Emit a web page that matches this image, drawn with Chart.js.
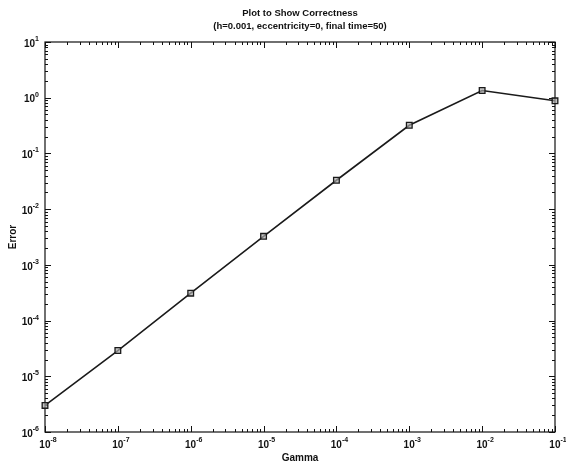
<!DOCTYPE html>
<html lang="en">
<head>
<meta charset="UTF-8">
<script src="https://cdn.jsdelivr.net/npm/chart.js"></script>
<style>
  html, body { margin: 0; padding: 0; background: #fff; }
  #wrap { width: 566px; height: 470px; }
</style>
</head>
<body>
<div id="wrap"><canvas id="errChart" width="566" height="470"></canvas></div>
<script>
  // data
  const gamma = [1e-8, 1e-7, 1e-6, 1e-5, 1e-4, 1e-3, 1e-2, 1e-1];
  const errorVals = [3.0e-6, 2.9e-5, 3.1e-4, 3.25e-3, 3.3e-2, 0.32, 1.35, 0.88];
  const xExps = [-8, -7, -6, -5, -4, -3, -2, -1];
  const yExps = [-6, -5, -4, -3, -2, -1, 0, 1];
  const titleLines = ['Plot to Show Correctness', '(h=0.001, eccentricity=0, final time=50)'];

  const FONT = '"Liberation Sans", Arial, sans-serif';

  // draws the frame, inward ticks, power-of-ten labels and titles (matlab look)
  const matlabAxes = {
    id: 'matlabAxes',
    beforeDatasetsDraw(chart) {
      const ctx = chart.ctx;
      const a = chart.chartArea;
      const xs = chart.scales.x, ys = chart.scales.y;
      ctx.save();
      ctx.strokeStyle = '#111';
      ctx.lineWidth = 1.2;
      ctx.strokeRect(a.left, a.top, a.right - a.left, a.bottom - a.top);

      ctx.lineWidth = 1;
      ctx.beginPath();
      // x ticks
      for (let e = xExps[0]; e <= xExps[xExps.length - 1]; e++) {
        for (let m = 1; m <= 9; m++) {
          if (e === xExps[xExps.length - 1] && m > 1) break;
          const px = Math.round(xs.getPixelForValue(m * Math.pow(10, e))) + 0.5;
          const len = m === 1 ? 6 : 3;
          ctx.moveTo(px, a.bottom); ctx.lineTo(px, a.bottom - len);
          ctx.moveTo(px, a.top); ctx.lineTo(px, a.top + len);
        }
      }
      // y ticks
      for (let e = yExps[0]; e <= yExps[yExps.length - 1]; e++) {
        for (let m = 1; m <= 9; m++) {
          if (e === yExps[yExps.length - 1] && m > 1) break;
          const py = Math.round(ys.getPixelForValue(m * Math.pow(10, e))) + 0.5;
          const len = m === 1 ? 6 : 3;
          ctx.moveTo(a.left, py); ctx.lineTo(a.left + len, py);
          ctx.moveTo(a.right, py); ctx.lineTo(a.right - len, py);
        }
      }
      ctx.stroke();

      ctx.fillStyle = '#111';
      const drawPow = (exp, x, y, align) => {
        ctx.font = 'bold 10px ' + FONT;
        const base = '10';
        const bw = ctx.measureText(base).width;
        ctx.font = 'bold 7px ' + FONT;
        const ew = ctx.measureText(String(exp)).width;
        let x0 = x;
        if (align === 'right') x0 = x - bw - ew;
        if (align === 'center') x0 = x - (bw + ew) / 2;
        ctx.textAlign = 'left';
        ctx.textBaseline = 'middle';
        ctx.font = 'bold 10px ' + FONT;
        ctx.fillText(base, x0, y);
        ctx.font = 'bold 7px ' + FONT;
        ctx.fillText(String(exp), x0 + bw, y - 5);
      };
      xExps.forEach(e => drawPow(e, xs.getPixelForValue(Math.pow(10, e)) + 3, a.bottom + 13, 'center'));
      yExps.forEach(e => drawPow(e, a.left - 6, ys.getPixelForValue(Math.pow(10, e)) + 2, 'right'));

      ctx.textAlign = 'center';
      ctx.textBaseline = 'middle';
      ctx.font = 'bold 10px ' + FONT;
      ctx.fillText('Gamma', (a.left + a.right) / 2, 458);
      ctx.save();
      ctx.translate(13, (a.top + a.bottom) / 2);
      ctx.rotate(-Math.PI / 2);
      ctx.fillText('Error', 0, 0);
      ctx.restore();

      ctx.font = 'bold 9.5px ' + FONT;
      ctx.fillText(titleLines[0], (a.left + a.right) / 2, 13);
      ctx.fillText(titleLines[1], (a.left + a.right) / 2, 26);
      ctx.restore();
    }
  };

  new Chart(document.getElementById('errChart'), {
    type: 'line',
    data: {
      datasets: [{
        data: gamma.map((g, i) => ({ x: g, y: errorVals[i] })),
        borderColor: '#1a1a1a',
        borderWidth: 1.6,
        pointStyle: 'rect',
        pointRadius: 4,
        pointBorderWidth: 1.3,
        pointBorderColor: '#1a1a1a',
        pointBackgroundColor: 'rgba(170,170,170,0.7)',
        fill: false,
        tension: 0,
        clip: false
      }]
    },
    options: {
      responsive: false,
      animation: false,
      layout: { padding: { left: 45, right: 11, top: 42, bottom: 38 } },
      plugins: { legend: { display: false }, tooltip: { enabled: false }, title: { display: false } },
      scales: {
        x: { type: 'logarithmic', min: 1e-8, max: 1e-1, display: false },
        y: { type: 'logarithmic', min: 1e-6, max: 1e1, display: false }
      }
    },
    plugins: [matlabAxes]
  });
</script>
</body>
</html>
